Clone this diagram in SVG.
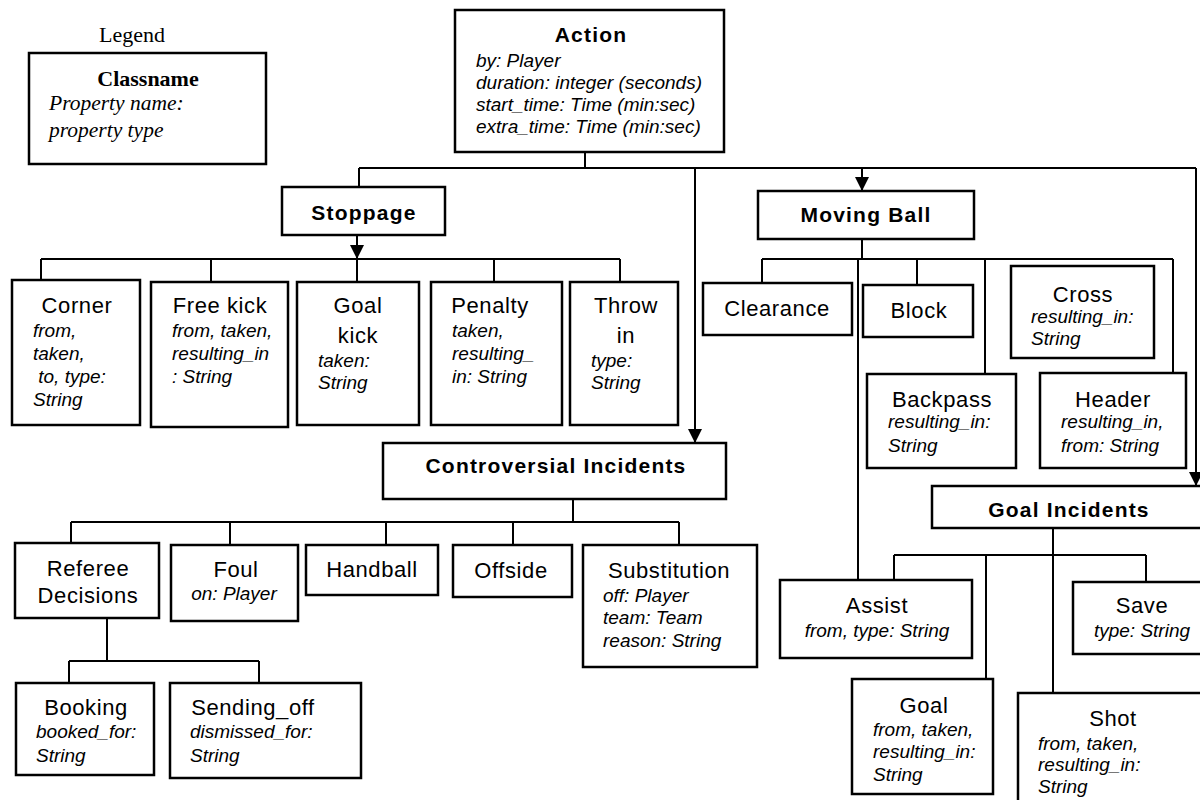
<svg xmlns="http://www.w3.org/2000/svg" width="1200" height="800" viewBox="0 0 1200 800">
  <defs>
    <marker id="arrow" viewBox="0 0 14 14" refX="14" refY="7" markerWidth="14" markerHeight="14" markerUnits="userSpaceOnUse" orient="auto">
      <path d="M0,0 L14,7 L0,14 Z" fill="#000"/>
    </marker>
  </defs>
  <style>
    .box { fill: #fff; stroke: #000; stroke-width: 2.5; }
    .wire { fill: none; stroke: #000; stroke-width: 2; }
    .title { font-family: "Liberation Sans", Arial, sans-serif; font-weight: bold; font-size: 21px; letter-spacing: 1.2px; text-anchor: middle; fill: #000; }
    .name { font-family: "Liberation Sans", Arial, sans-serif; font-size: 22px; letter-spacing: 0.6px; text-anchor: middle; fill: #000; }
    .prop { font-family: "Liberation Sans", Arial, sans-serif; font-style: italic; font-size: 19px; fill: #000; }
    .propc { font-family: "Liberation Sans", Arial, sans-serif; font-style: italic; font-size: 19px; text-anchor: middle; fill: #000; }
    .serif { font-family: "Liberation Serif", "Times New Roman", serif; fill: #000; }
  </style>
  <rect width="1200" height="800" fill="#fff"/>

  <!-- connectors -->
  <g id="connectors">
    <!-- Action to its subclasses -->
    <path class="wire" d="M585,152 V168 M359,168 H1196 M359,168 V187"/>
    <path class="wire" d="M695,168 V443" marker-end="url(#arrow)"/>
    <path class="wire" d="M862,168 V191" marker-end="url(#arrow)"/>
    <path class="wire" d="M1196,168 V486" marker-end="url(#arrow)"/>
    <!-- Stoppage -->
    <path class="wire" d="M357,235 V259" marker-end="url(#arrow)"/>
    <path class="wire" d="M41,259 H620 M41,259 V280 M211,259 V282 M357,259 V282 M494,259 V282 M620,259 V282"/>
    <!-- Moving Ball -->
    <path class="wire" d="M862,239 V259 M762,259 H1173 M762,259 V283 M858,259 V580 M917,259 V285 M985,259 V374 M1173,259 V373"/>
    <!-- Controversial Incidents -->
    <path class="wire" d="M573,499 V522 M71,522 H679 M71,522 V543 M230,522 V545 M386,522 V545 M513,522 V545 M679,522 V545"/>
    <!-- Referee Decisions -->
    <path class="wire" d="M107,618 V661 M69,661 H259 M69,661 V683 M259,661 V683"/>
    <!-- Goal Incidents -->
    <path class="wire" d="M1053,528 V693 M894,555 H1146 M894,555 V580 M986,555 V679 M1146,555 V582"/>
  </g>

  <!-- legend -->
  <g id="legend">
    <text class="serif" x="132" y="42" font-size="22" text-anchor="middle">Legend</text>
    <rect class="box" x="29" y="53" width="237" height="111"/>
    <text class="serif" x="148" y="86" font-size="22" font-weight="bold" text-anchor="middle">Classname</text>
    <text class="serif" x="49" y="110" font-size="21.5" font-style="italic">Property name:</text>
    <text class="serif" x="49" y="137" font-size="21.5" font-style="italic">property type</text>
  </g>

  <g id="action">
    <rect class="box" x="455" y="10" width="269" height="142"/>
    <text class="title" x="591" y="42">Action</text>
    <text class="prop" x="476" y="67">by: Player</text>
    <text class="prop" x="476" y="89">duration: integer (seconds)</text>
    <text class="prop" x="476" y="111">start_time: Time (min:sec)</text>
    <text class="prop" x="476" y="133">extra_time: Time (min:sec)</text>
  </g>

  <g id="stoppage">
    <rect class="box" x="282" y="187" width="163" height="48"/>
    <text class="title" x="364" y="220">Stoppage</text>
  </g>

  <g id="corner">
    <rect class="box" x="12" y="280" width="128" height="145"/>
    <text class="name" x="77" y="313">Corner</text>
    <text class="prop" x="33" y="337">from,</text>
    <text class="prop" x="33" y="360">taken,</text>
    <text class="prop" x="33" y="383" xml:space="preserve"> to, type:</text>
    <text class="prop" x="33" y="406">String</text>
  </g>

  <g id="free-kick">
    <rect class="box" x="151" y="282" width="137" height="145"/>
    <text class="name" x="220" y="313">Free kick</text>
    <text class="prop" x="172" y="337">from, taken,</text>
    <text class="prop" x="172" y="360">resulting_in</text>
    <text class="prop" x="172" y="383">: String</text>
  </g>

  <g id="goal-kick">
    <rect class="box" x="297" y="282" width="122" height="143"/>
    <text class="name" x="358" y="313">Goal</text>
    <text class="name" x="358" y="343">kick</text>
    <text class="prop" x="318" y="367">taken:</text>
    <text class="prop" x="318" y="389">String</text>
  </g>

  <g id="penalty">
    <rect class="box" x="431" y="282" width="131" height="143"/>
    <text class="name" x="490" y="313">Penalty</text>
    <text class="prop" x="452" y="337">taken,</text>
    <text class="prop" x="452" y="360">resulting_</text>
    <text class="prop" x="452" y="383">in: String</text>
  </g>

  <g id="throw-in">
    <rect class="box" x="570" y="282" width="108" height="143"/>
    <text class="name" x="626" y="313">Throw</text>
    <text class="name" x="626" y="343">in</text>
    <text class="prop" x="591" y="367">type:</text>
    <text class="prop" x="591" y="389">String</text>
  </g>

  <g id="moving-ball">
    <rect class="box" x="758" y="191" width="216" height="48"/>
    <text class="title" x="866" y="222">Moving Ball</text>
  </g>

  <g id="clearance">
    <rect class="box" x="703" y="283" width="149" height="52"/>
    <text class="name" x="777" y="316">Clearance</text>
  </g>

  <g id="block">
    <rect class="box" x="863" y="285" width="110" height="52"/>
    <text class="name" x="919" y="318">Block</text>
  </g>

  <g id="cross">
    <rect class="box" x="1011" y="266" width="143" height="92"/>
    <text class="name" x="1083" y="302">Cross</text>
    <text class="prop" x="1031" y="323">resulting_in:</text>
    <text class="prop" x="1031" y="345">String</text>
  </g>

  <g id="backpass">
    <rect class="box" x="867" y="374" width="149" height="94"/>
    <text class="name" x="942" y="407">Backpass</text>
    <text class="prop" x="888" y="428">resulting_in:</text>
    <text class="prop" x="888" y="452">String</text>
  </g>

  <g id="header">
    <rect class="box" x="1040" y="373" width="146" height="95"/>
    <text class="name" x="1113" y="407">Header</text>
    <text class="prop" x="1061" y="428">resulting_in,</text>
    <text class="prop" x="1061" y="452">from: String</text>
  </g>

  <g id="controversial-incidents">
    <rect class="box" x="383" y="443" width="343" height="56"/>
    <text class="title" x="556" y="473">Controversial Incidents</text>
  </g>

  <g id="referee-decisions">
    <rect class="box" x="15" y="543" width="144" height="75"/>
    <text class="name" x="88" y="576">Referee</text>
    <text class="name" x="88" y="603">Decisions</text>
  </g>

  <g id="foul">
    <rect class="box" x="171" y="545" width="127" height="76"/>
    <text class="name" x="236" y="577">Foul</text>
    <text class="propc" x="234" y="600">on: Player</text>
  </g>

  <g id="handball">
    <rect class="box" x="306" y="545" width="132" height="50"/>
    <text class="name" x="372" y="577">Handball</text>
  </g>

  <g id="offside">
    <rect class="box" x="453" y="545" width="119" height="52"/>
    <text class="name" x="511" y="578">Offside</text>
  </g>

  <g id="substitution">
    <rect class="box" x="583" y="545" width="174" height="122"/>
    <text class="name" x="669" y="578">Substitution</text>
    <text class="prop" x="603" y="602">off: Player</text>
    <text class="prop" x="603" y="624">team: Team</text>
    <text class="prop" x="603" y="647">reason: String</text>
  </g>

  <g id="booking">
    <rect class="box" x="16" y="683" width="138" height="92"/>
    <text class="name" x="86" y="715">Booking</text>
    <text class="prop" x="36" y="738">booked_for:</text>
    <text class="prop" x="36" y="762">String</text>
  </g>

  <g id="sending-off">
    <rect class="box" x="170" y="683" width="191" height="95"/>
    <text class="name" x="253" y="715">Sending_off</text>
    <text class="prop" x="190" y="738">dismissed_for:</text>
    <text class="prop" x="190" y="762">String</text>
  </g>

  <g id="goal-incidents">
    <rect class="box" x="932" y="486" width="280" height="42"/>
    <text class="title" x="1069" y="517">Goal Incidents</text>
  </g>

  <g id="assist">
    <rect class="box" x="780" y="580" width="192" height="78"/>
    <text class="name" x="877" y="613">Assist</text>
    <text class="propc" x="877" y="637">from, type: String</text>
  </g>

  <g id="save">
    <rect class="box" x="1073" y="582" width="140" height="72"/>
    <text class="name" x="1142" y="613">Save</text>
    <text class="propc" x="1142" y="637">type: String</text>
  </g>

  <g id="goal">
    <rect class="box" x="852" y="679" width="141" height="115"/>
    <text class="name" x="924" y="713">Goal</text>
    <text class="prop" x="873" y="736">from, taken,</text>
    <text class="prop" x="873" y="758">resulting_in:</text>
    <text class="prop" x="873" y="781">String</text>
  </g>

  <g id="shot">
    <rect class="box" x="1018" y="693" width="195" height="120"/>
    <text class="name" x="1113" y="726">Shot</text>
    <text class="prop" x="1038" y="750">from, taken,</text>
    <text class="prop" x="1038" y="771">resulting_in:</text>
    <text class="prop" x="1038" y="793">String</text>
  </g>
</svg>
